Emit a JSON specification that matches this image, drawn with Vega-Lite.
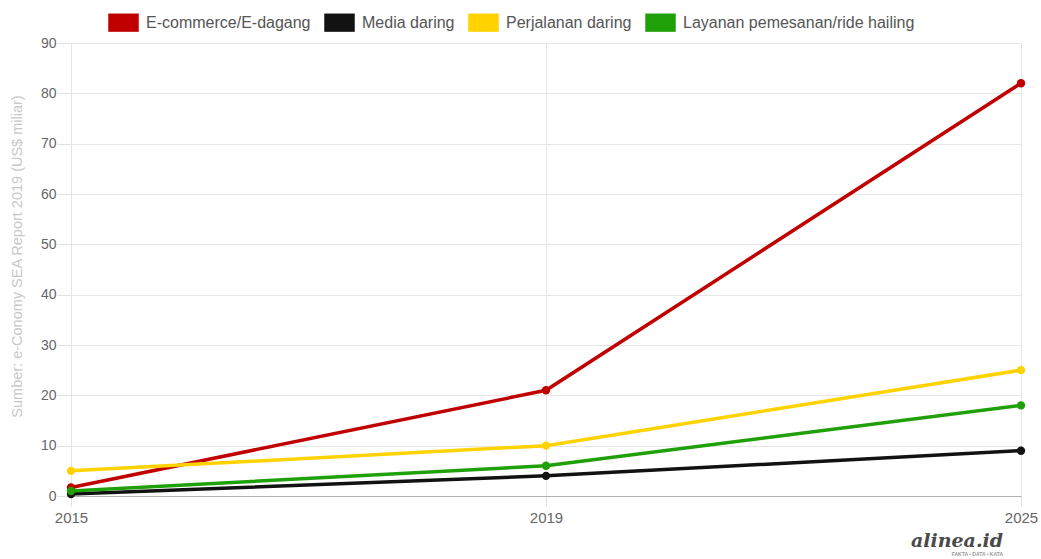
{
  "$schema": "https://vega.github.io/schema/vega-lite/v6.json",
  "width": 950,
  "height": 453,
  "autosize": {"type": "none"},
  "padding": {"left": 71, "top": 43, "right": 20, "bottom": 63},
  "background": "#ffffff",
  "title": {
    "text": "alinea.id",
    "subtitle": "FAKTA • DATA • KATA",
    "orient": "bottom",
    "anchor": "end",
    "frame": "group",
    "offset": 7,
    "dx": -18,
    "font": "DejaVu Serif",
    "fontSize": 19,
    "fontWeight": "bold",
    "fontStyle": "italic",
    "color": "#4a4a4a",
    "subtitleFont": "Liberation Sans",
    "subtitleFontSize": 5,
    "subtitleColor": "#999999",
    "subtitlePadding": 1,
    "subtitleFontWeight": "bold"
  },
  "data": {
    "values": [
      {"year": "2015", "series": "E-commerce/E-dagang", "value": 1.7},
      {"year": "2019", "series": "E-commerce/E-dagang", "value": 21},
      {"year": "2025", "series": "E-commerce/E-dagang", "value": 82},
      {"year": "2015", "series": "Media daring", "value": 0.4},
      {"year": "2019", "series": "Media daring", "value": 4},
      {"year": "2025", "series": "Media daring", "value": 9},
      {"year": "2015", "series": "Perjalanan daring", "value": 5},
      {"year": "2019", "series": "Perjalanan daring", "value": 10},
      {"year": "2025", "series": "Perjalanan daring", "value": 25},
      {"year": "2015", "series": "Layanan pemesanan/ride hailing", "value": 1},
      {"year": "2019", "series": "Layanan pemesanan/ride hailing", "value": 6},
      {"year": "2025", "series": "Layanan pemesanan/ride hailing", "value": 18}
    ]
  },
  "encoding": {
    "x": {
      "field": "year",
      "type": "ordinal",
      "scale": {"type": "point", "padding": 0},
      "axis": {
        "title": null,
        "labelAngle": 0,
        "labelFont": "Liberation Sans",
        "labelFontSize": 15,
        "labelColor": "#666666",
        "labelPadding": 4,
        "tickSize": 10,
        "tickColor": "#e0e0e0",
        "domainColor": "#b0b0b0",
        "grid": true,
        "gridColor": "#e6e6e6",
        "labelAlign": "center"
      }
    },
    "y": {
      "field": "value",
      "type": "quantitative",
      "scale": {"domain": [0, 90], "nice": false},
      "axis": {
        "title": "Sumber: e-Conomy SEA Report 2019 (US$ miliar)",
        "titleFont": "Liberation Sans",
        "titleFontSize": 14.5,
        "titleFontWeight": "normal",
        "titleColor": "#c8c8c8",
        "titleX": -54,
        "titleY": 213,
        "titleAngle": -90,
        "titleAlign": "center",
        "titleBaseline": "middle",
        "values": [0, 10, 20, 30, 40, 50, 60, 70, 80, 90],
        "labelFont": "Liberation Sans",
        "labelFontSize": 14,
        "labelColor": "#666666",
        "labelPadding": 1,
        "tickSize": 14,
        "tickColor": "#e0e0e0",
        "domain": false,
        "grid": true,
        "gridColor": "#e6e6e6"
      }
    },
    "color": {
      "field": "series",
      "type": "nominal",
      "scale": {
        "domain": ["E-commerce/E-dagang", "Media daring", "Perjalanan daring", "Layanan pemesanan/ride hailing"],
        "range": ["#c00000", "#121212", "#ffd200", "#20a008"]
      },
      "legend": {
        "title": null,
        "orient": "none",
        "legendX": 37,
        "legendY": -36,
        "direction": "horizontal",
        "symbolType": "M-1,-0.6H1V0.6H-1Z",
        "symbolSize": 930,
        "symbolStrokeWidth": 0,
        "symbolOpacity": 1,
        "labelFont": "Liberation Sans",
        "labelFontSize": 16,
        "labelColor": "#555555",
        "labelOffset": 7,
        "columnPadding": 13,
        "labelLimit": 400
      }
    }
  },
  "layer": [
    {"mark": {"type": "line", "strokeWidth": 3.5}},
    {"mark": {"type": "point", "filled": true, "size": 70, "opacity": 1}}
  ],
  "config": {
    "view": {"stroke": null}
  }
}
